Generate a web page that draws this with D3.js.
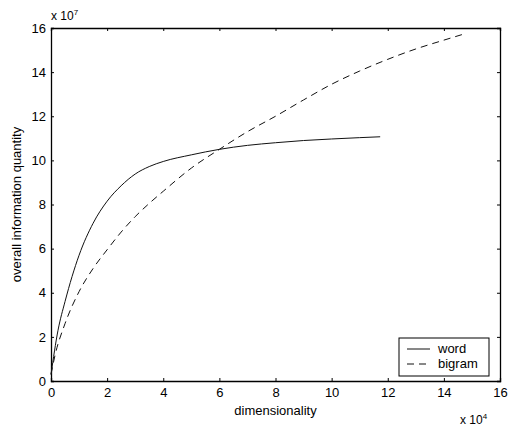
<!DOCTYPE html>
<html>
<head>
<meta charset="utf-8">
<script src="https://cdn.jsdelivr.net/npm/d3@7"></script>
<style>
  body { margin: 0; background: #fff; }
  text { font-family: "Liberation Sans", Arial, sans-serif; font-size: 13px; fill: #000; }
</style>
</head>
<body>
<div id="chart"></div>
<script>
// values are in units of 1e4 (x) and 1e7 (y)
const wordX = [0, 0.25, 0.5, 1, 1.5, 2, 2.5, 3, 3.5, 4, 5, 6, 7, 8, 9, 10, 11, 11.73]
const wordY = [0.3, 2.3, 3.6, 5.7, 7.15, 8.15, 8.85, 9.38, 9.72, 9.95, 10.25, 10.5, 10.68, 10.8, 10.9, 10.97, 11.03, 11.07]

const bigramX = [0, 0.15, 0.5, 1, 1.5, 2, 2.5, 3, 3.5, 4, 5, 6, 7, 8, 9, 10, 11, 12, 13, 14, 14.8]
const bigramY = [0.3, 1.2, 2.6, 4.05, 5.1, 5.95, 6.75, 7.45, 8.05, 8.6, 9.65, 10.5, 11.3, 12.0, 12.74, 13.45, 14.05, 14.58, 15.05, 15.45, 15.76]

const xTicks = [0, 2, 4, 6, 8, 10, 12, 14, 16]
const yTicks = [0, 2, 4, 6, 8, 10, 12, 14, 16]
const seriesNames = ["word", "bigram"]

const width = 511, height = 426
const margin = {top: 28, right: 11, bottom: 45, left: 51}
const w = width - margin.left - margin.right
const h = height - margin.top - margin.bottom

const svg = d3.select("#chart").append("svg")
    .attr("width", width)
    .attr("height", height)

const g = svg.append("g")
    .attr("transform", "translate(" + margin.left + "," + margin.top + ")")

const x = d3.scaleLinear().domain([0, 16]).range([0, w])
const y = d3.scaleLinear().domain([0, 16]).range([h, 0])

// axes, ticks pointing inward, MATLAB style box
const xAxis = d3.axisBottom(x).tickValues(xTicks).tickSize(-3).tickPadding(7)
const yAxis = d3.axisLeft(y).tickValues(yTicks).tickSize(-3).tickPadding(5)

g.append("g").attr("transform", "translate(0," + h + ")").call(xAxis)
g.append("g").call(yAxis)
g.append("g").call(d3.axisTop(x).tickValues(xTicks).tickSize(-3).tickFormat(""))
g.append("g").attr("transform", "translate(" + w + ",0)")
    .call(d3.axisRight(y).tickValues(yTicks).tickSize(-3).tickFormat(""))

g.selectAll(".domain").attr("stroke", "#000").attr("stroke-width", 1.3)
g.selectAll(".tick line").attr("stroke", "#000")
g.selectAll(".tick text").style("font-size", "13px").attr("fill", "#000")
    .style("font-family", "'Liberation Sans', Arial, sans-serif")

const line = d3.line()
    .x(function (d) { return x(d[0]) })
    .y(function (d) { return y(d[1]) })
    .curve(d3.curveMonotoneX)

const word = d3.zip(wordX, wordY)
const bigram = d3.zip(bigramX, bigramY)

g.append("path")
    .datum(word)
    .attr("d", line)
    .attr("fill", "none")
    .attr("stroke", "#111")
    .attr("stroke-width", 1)

g.append("path")
    .datum(bigram)
    .attr("d", line)
    .attr("fill", "none")
    .attr("stroke", "#111")
    .attr("stroke-width", 1)
    .attr("stroke-dasharray", "7,5")

// axis labels
g.append("text")
    .attr("x", w / 2)
    .attr("y", h + 34)
    .attr("text-anchor", "middle")
    .text("dimensionality")

svg.append("text")
    .attr("transform", "translate(21," + (margin.top + h / 2) + ") rotate(-90)")
    .attr("text-anchor", "middle")
    .text("overall information quantity")

// exponent labels
const ex = svg.append("text").attr("x", 51).attr("y", 20).style("font-size", "12px")
ex.append("tspan").text("x 10")
ex.append("tspan").attr("dy", -5).style("font-size", "8px").text("7")

const ex2 = svg.append("text").attr("x", 460).attr("y", 424).style("font-size", "12px")
ex2.append("tspan").text("x 10")
ex2.append("tspan").attr("dy", -5).style("font-size", "8px").text("4")

// legend
const legend = svg.append("g").attr("transform", "translate(399,338)")
legend.append("rect")
    .attr("width", 90)
    .attr("height", 38)
    .attr("fill", "#fff")
    .attr("stroke", "#000")
    .attr("stroke-width", 1)

const items = legend.selectAll(".legends")
    .data(seriesNames)
    .enter().append("g")
    .attr("class", "legends")
    .attr("transform", function (d, i) {
        return "translate(0," + (11 + i * 15) + ")"
    })

items.append("line")
    .attr("x1", 8)
    .attr("x2", 31)
    .attr("stroke", "#111")
    .attr("stroke-dasharray", function (d, i) { return i === 1 ? "7,5" : null })

items.append("text")
    .attr("x", 39)
    .attr("y", 4)
    .text(function (d) { return d })
</script>
</body>
</html>
